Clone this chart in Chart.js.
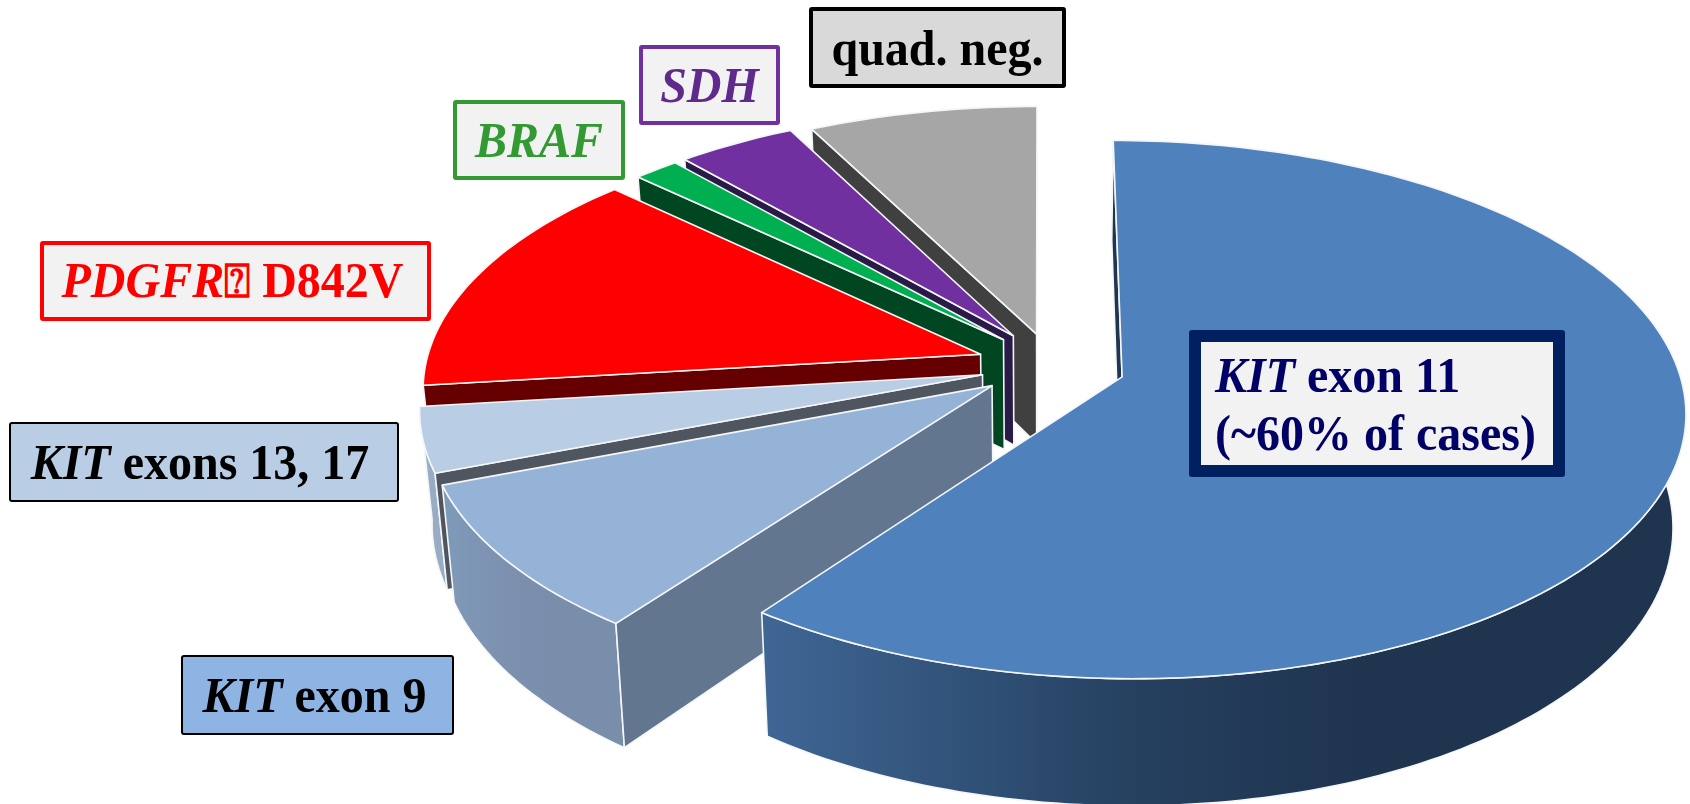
<!DOCTYPE html>
<html>
<head>
<meta charset="utf-8">
<title>GIST genotypes</title>
<script src="https://cdn.jsdelivr.net/npm/chart.js@4/dist/chart.umd.min.js"></script>
<style>
  html, body { margin: 0; background: #fff; }
  #wrap { position: relative; width: 1690px; height: 804px; overflow: hidden; }
  canvas { display: block; }
  .tag {
    position: absolute; box-sizing: border-box; display: flex; align-items: center; justify-content: center;
    font-family: "Liberation Serif", serif; font-weight: bold; font-size: 48px; line-height: 54px;
    white-space: nowrap; background: #f2f2f2; border-radius: 3px;
  }
  .tag > div { transform: scaleY(1.07); }
  #t-kit11 { left: 1189px; top: 330px; width: 376px; height: 147px; border: 12px solid #002060; color: #000066; justify-content: flex-start; padding-left: 14px; }
  #t-kit9 { left: 181px; top: 655px; width: 273px; height: 80px; border: 2px solid #000; background: #8eb4e3; color: #000; padding-right: 6px; }
  #t-kit13 { left: 9px; top: 422px; width: 390px; height: 80px; border: 2px solid #000; background: #b9cde5; color: #000; padding-right: 8px; }
  #t-pdgfr { left: 40px; top: 241px; width: 391px; height: 80px; border: 4px solid #f00; color: #f00; padding-right: 6px; }
  #t-braf { left: 453px; top: 100px; width: 172px; height: 80px; border: 4px solid #339933; color: #339933; }
  #t-sdh { left: 639px; top: 45px; width: 141px; height: 80px; border: 4px solid #7030a0; color: #5f2a8c; }
  #t-quad { left: 809px; top: 7px; width: 257px; height: 81px; border: 4px solid #000; background: #d9d9d9; color: #000; }
  .sub { font-size: 44px; }
</style>
</head>
<body>
<div id="wrap">
  <canvas id="pie" width="1690" height="804"></canvas>
  <div class="tag" id="t-kit11"><div><i>KIT</i> exon 11<br>(~60% of cases)</div></div>
  <div class="tag" id="t-kit9"><div><i>KIT</i> exon 9</div></div>
  <div class="tag" id="t-kit13"><div><i>KIT</i> exons 13, 17</div></div>
  <div class="tag" id="t-pdgfr"><div><i>PDGFR</i><span class="sub">⍰</span> D842V</div></div>
  <div class="tag" id="t-braf"><div><i>BRAF</i></div></div>
  <div class="tag" id="t-sdh"><div><i>SDH</i></div></div>
  <div class="tag" id="t-quad"><div>quad. neg.</div></div>
</div>
<script>
const categories = ['KIT exon 11', 'KIT exon 9', 'KIT exons 13, 17', 'PDGFRA D842V', 'BRAF', 'SDH', 'quad. neg.'];
const shares = [60, 9, 3.9, 13.9, 1.5, 3.9, 7.5];

const topColors = ['#4f81bd', '#95b3d7', '#b9cde5', '#ff0000', '#00b050', '#7030a0', '#a6a6a6'];
const cutColors = ['#1f3550', '#62778f', '#4f5660', '#660000', '#004620', '#2a1a48', '#404040'];
const rimStops = [
  ['#3f6695', '#25405f', '#1f344f'],
  ['#7f9ab9', '#7c90ae', '#788eab'],
  ['#a2b5cb', '#9cb0c7', '#98acc3'],
  ['#990000', '#990000', '#990000'],
  ['#006a30', '#006a30', '#006a30'],
  ['#43205f', '#43205f', '#43205f'],
  ['#636363', '#636363', '#636363']
];
const explode = [86, 62, 62, 66, 72, 66, 66];
// small corrections on top of the radial pull-out
const nudgeX = [0, 2, 3, 3, 13, 10, 12];
const nudgeY = [0, 8, 8, 0, 0, -6, 0];

// tilt of the pie: vertical squash, perspective strength, thickness
const SQUASH = 262;
const PERSPECTIVE = 0.121;
const DEPTH = 111;
const BOTTOM_SHRINK = 0.98;

const pie3d = {
  id: 'pie3d',
  beforeDatasetDraw(chart, args) {
    const ctx = chart.ctx;
    const arcs = args.meta.data;

    // arcs are laid out flat by chart.js, this maps them onto the tilted plane
    const project = (arc, gx, gy, down) => {
      const R = arc.outerRadius;
      const u = gy / R;
      const s = 1 / (1 - PERSPECTIVE * u);
      const shrink = down ? BOTTOM_SHRINK : 1;
      return {
        x: arc.x + gx * s * shrink,
        y: arc.y + SQUASH * u * s + (down ? DEPTH * s : 0)
      };
    };

    const polygon = (pts, fill) => {
      ctx.beginPath();
      pts.forEach((p, i) => i ? ctx.lineTo(p.x, p.y) : ctx.moveTo(p.x, p.y));
      ctx.closePath();
      ctx.fillStyle = fill;
      ctx.fill();
      ctx.strokeStyle = '#f4f6f8';
      ctx.lineWidth = 1.6;
      ctx.lineJoin = 'round';
      ctx.stroke();
    };

    for (let i = arcs.length - 1; i >= 0; i--) {
      const arc = arcs[i];
      const off = arc.options.offset;
      const mid = (arc.startAngle + arc.endAngle) / 2;
      const ox = off * Math.cos(mid) + nudgeX[i];
      const oy = off * Math.sin(mid) + nudgeY[i];
      const steps = Math.max(4, Math.ceil((arc.endAngle - arc.startAngle) / 0.02));

      const rimTop = [];
      const rimBottom = [];
      for (let k = 0; k <= steps; k++) {
        const a = arc.startAngle + (arc.endAngle - arc.startAngle) * k / steps;
        const gx = ox + arc.outerRadius * Math.cos(a);
        const gy = oy + arc.outerRadius * Math.sin(a);
        rimTop.push(project(arc, gx, gy, false));
        rimBottom.push(project(arc, gx, gy, true));
      }
      const apexTop = project(arc, ox, oy, false);
      const apexBottom = project(arc, ox, oy, true);

      // outer wall
      const xs = rimTop.map(p => p.x);
      const minX = Math.min(...xs);
      const maxX = Math.max(...xs);
      const grad = ctx.createLinearGradient(minX, 0, maxX, 0);
      grad.addColorStop(0, rimStops[i][0]);
      grad.addColorStop(0.41, rimStops[i][1]);
      grad.addColorStop(0.65, rimStops[i][2]);
      polygon(rimTop.concat(rimBottom.slice().reverse()), grad);

      // cut wall along the leading edge
      polygon([apexTop, rimTop[0], rimBottom[0], apexBottom], cutColors[i]);

      // top face
      polygon([apexTop].concat(rimTop), arc.options.backgroundColor);
    }
    return false;
  }
};

new Chart(document.getElementById('pie'), {
  type: 'pie',
  data: {
    labels: categories,
    datasets: [{
      data: shares,
      backgroundColor: topColors,
      borderWidth: 0,
      offset: explode,
      hoverOffset: 0,
      radius: 555
    }]
  },
  options: {
    responsive: false,
    animation: false,
    events: [],
    layout: { padding: { left: 390, bottom: 76 } },
    plugins: { legend: { display: false }, tooltip: { enabled: false } }
  },
  plugins: [pie3d]
});
</script>
</body>
</html>
